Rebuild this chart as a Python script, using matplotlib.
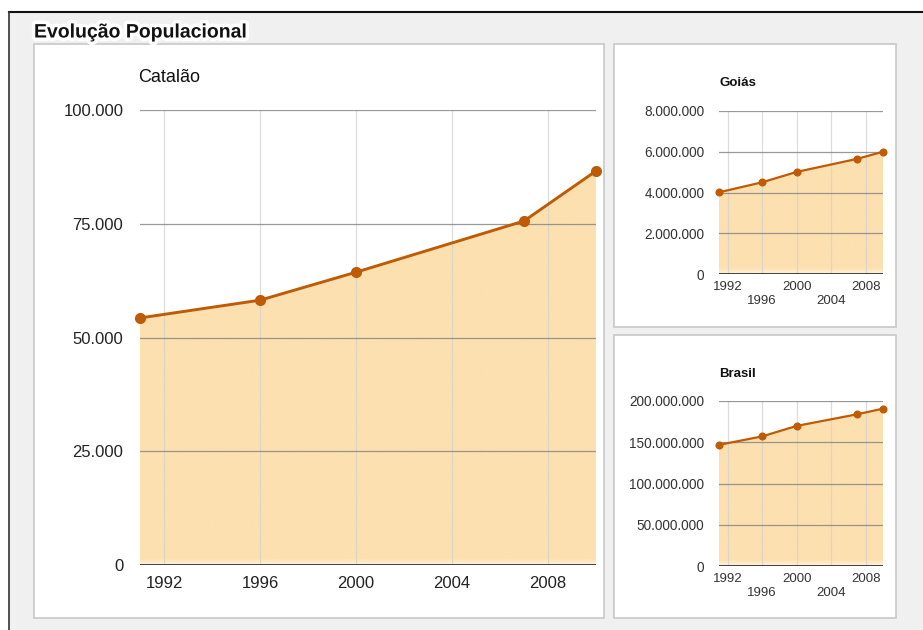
import matplotlib
matplotlib.use("Agg")
import matplotlib.pyplot as plt
import matplotlib.patheffects as pe
from matplotlib.patches import Rectangle
from matplotlib.lines import Line2D
from matplotlib.ticker import FuncFormatter
import numpy as np

plt.rcParams['font.family'] = ['Liberation Sans', 'DejaVu Sans']

# ---------------- data ----------------
years = [1991, 1996, 2000, 2007, 2010]
catalao = [54300, 58200, 64350, 75600, 86600]
goias = [4010000, 4500000, 5010000, 5650000, 6000000]
brasil = [146800000, 157100000, 169800000, 183900000, 190700000]

main_title = "Evolução Populacional"
panel_titles = ["Catalão", "Goiás", "Brasil"]
year_ticks = [1992, 1996, 2000, 2004, 2008]
catalao_yticks = [0, 25000, 50000, 75000, 100000]
goias_yticks = [0, 2000000, 4000000, 6000000, 8000000]
brasil_yticks = [0, 50000000, 100000000, 150000000, 200000000]

# ---------------- style ----------------
W, H = 923, 630
LINE = '#bf5b04'
FILL_TOP = np.array([253, 224, 176]) / 255
FILL_BOT = np.array([255, 242, 220]) / 255

fig = plt.figure(figsize=(W / 100, H / 100), dpi=100, facecolor='white')


def rect_px(x0, y0, x1, y1, z, **kw):
    fig.patches.append(Rectangle((x0 / W, 1 - y1 / H), (x1 - x0) / W, (y1 - y0) / H,
                                 transform=fig.transFigure, zorder=z, **kw))


def axes_px(x0, y0, x1, y1):
    ax = fig.add_axes([x0 / W, 1 - y1 / H, (x1 - x0) / W, (y1 - y0) / H])
    ax.set_zorder(5)
    return ax


# background area and outer border
rect_px(9, 12, W + 2, H + 2, -3, facecolor='#f0f0f0', edgecolor='none')
fig.lines.append(Line2D([9 / W, 1], [1 - 12 / H, 1 - 12 / H], transform=fig.transFigure,
                        color='#111111', lw=1.5, zorder=-2))
fig.lines.append(Line2D([9 / W, 9 / W], [0, 1 - 12 / H], transform=fig.transFigure,
                        color='#333333', lw=1.2, zorder=-2))

# panels
for (x0, y0, x1, y1) in [(34, 44, 604, 618), (614, 44, 896, 327), (614, 335, 896, 618)]:
    rect_px(x0, y0, x1, y1, -1, facecolor='white', edgecolor='#c8c8c8', lw=1.2)

fig.text(34 / W, 1 - 33 / H, main_title, fontsize=14, fontweight='bold', color='#111111',
         ha='left', va='center', zorder=10,
         path_effects=[pe.withStroke(linewidth=5, foreground='white')])


def fmt(v, pos=None):
    return f"{int(round(v)):,}".replace(",", ".")


def draw(ax, x, y, yticks, small, ax_h_px):
    ax.set_xlim(1991, 2010)
    ax.set_ylim(yticks[0], yticks[-1])
    ax.patch.set_alpha(0)
    for s in ax.spines.values():
        s.set_visible(False)
    # vertical grid
    for t in year_ticks:
        ax.axvline(t, color='#cfcfcf', lw=0.9, alpha=0.7, zorder=3)
    # horizontal grid
    for t in yticks[1:]:
        ax.axhline(t, color='#808080', lw=0.9, alpha=0.8, zorder=3)
    ax.axhline(yticks[0], color='#333333', lw=1.3, zorder=5)
    # gradient fill clipped to the area under the line (lighter band near baseline)
    poly = ax.fill_between(x, y, yticks[0], color='none', lw=0)
    top = max(y)
    top_px = ax_h_px * (top - yticks[0]) / (yticks[-1] - yticks[0])
    band = 6.0 / top_px
    n = 400
    frac = np.linspace(0, 1, n)[:, None]
    w = np.clip((frac - (1 - band)) / band, 0, 1)
    grad = FILL_TOP[None, None, :] * (1 - w[..., None]) + FILL_BOT[None, None, :] * w[..., None]
    grad = np.repeat(grad, 2, axis=1)
    im = ax.imshow(grad, extent=[x[0], x[-1], yticks[0], top],
                   aspect='auto', origin='upper', zorder=2, interpolation='bilinear')
    im.set_clip_path(poly.get_paths()[0], ax.transData)
    ax.set_xlim(1991, 2010)
    ax.set_ylim(yticks[0], yticks[-1])
    ax.plot(x, y, color=LINE, lw=1.6 if small else 2.1, marker='o',
            ms=4.8 if small else 7, zorder=6, clip_on=False)
    ax.set_yticks(yticks)
    ax.yaxis.set_major_formatter(FuncFormatter(fmt))
    ax.set_xticks(year_ticks)
    if small:
        ax.set_xticklabels([str(t) if i % 2 == 0 else "\n" + str(t)
                            for i, t in enumerate(year_ticks)], linespacing=1.25)
        ax.tick_params(axis='y', length=0, pad=10.5, labelsize=9.8, labelcolor='#333333')
        ax.tick_params(axis='x', length=0, pad=5, labelsize=9.5, labelcolor='#333333')
    else:
        ax.tick_params(axis='y', length=0, pad=12, labelsize=12, labelcolor='#222222')
        ax.tick_params(axis='x', length=0, pad=8, labelsize=12, labelcolor='#222222')


ax1 = axes_px(140, 110, 596, 565)
draw(ax1, years, catalao, catalao_yticks, False, 565 - 110)
fig.text(138 / W, 1 - 77 / H, panel_titles[0], fontsize=13, color='#111111', ha='left', va='center')

ax2 = axes_px(719, 111, 883, 274)
draw(ax2, years, goias, goias_yticks, True, 274 - 111)
fig.text(719 / W, 1 - 83 / H, panel_titles[1], fontsize=9.5, fontweight='bold',
         color='#111111', ha='left', va='center')

ax3 = axes_px(719, 401, 883, 566)
draw(ax3, years, brasil, brasil_yticks, True, 566 - 401)
fig.text(719 / W, 1 - 374 / H, panel_titles[2], fontsize=9.5, fontweight='bold',
         color='#111111', ha='left', va='center')

fig.savefig("out.png", dpi=100, facecolor=fig.get_facecolor())
